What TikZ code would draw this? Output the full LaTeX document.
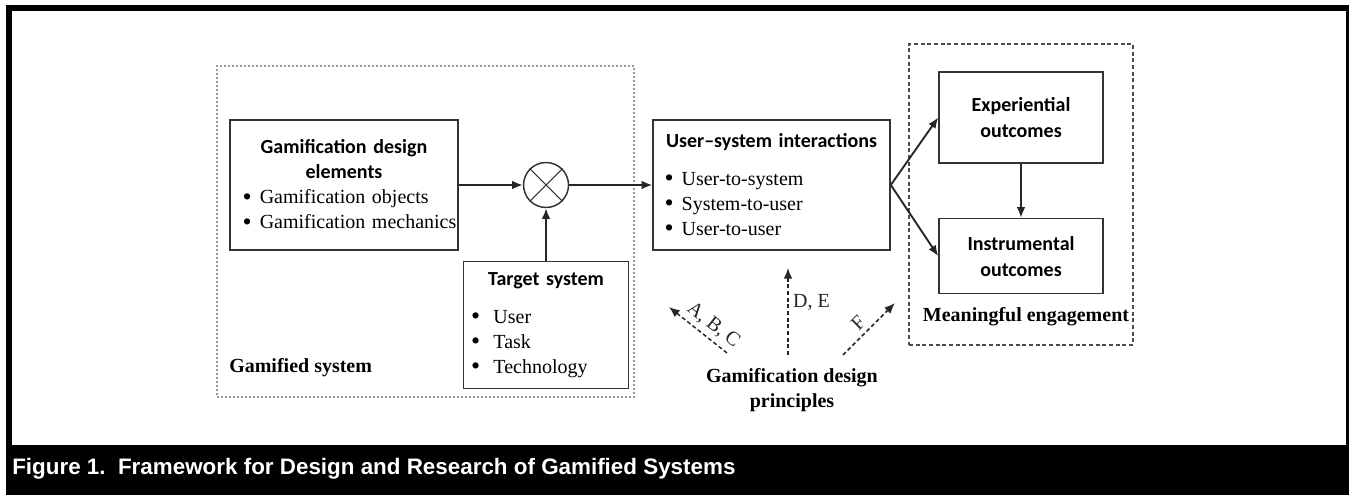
\documentclass[tikz,border=0pt]{standalone}
\usepackage{fontspec}
\setmainfont{Liberation Serif}
\newfontfamily\calib{Carlito}
\newfontfamily\arialb{Liberation Sans}
\usetikzlibrary{positioning,arrows.meta}

\newcommand{\fsz}{\fontsize{15pt}{18.75pt}\selectfont}
\newcommand{\hd}{\calib\bfseries}
\newcommand{\itm}[2][6pt]{\mbox{\raisebox{-0.9pt}{\scalebox{1.3}{\textbullet}}\hspace{#1}#2}}

\begin{document}
\begin{tikzpicture}[x=0.75pt, y=-0.75pt,
  box/.style={draw=black!80, line width=1.2pt, align=left, font=\fsz},
  outbox/.style={draw=black!80, line width=1.2pt, align=center, minimum width=123pt,
    font=\calib\bfseries\fontsize{15pt}{19.5pt}\selectfont},
  grp/.style={draw=black!40, line width=1.5pt, dash pattern=on 1.5pt off 1.5pt},
  grpb/.style={draw=black!70, line width=1.1pt, dash pattern=on 3pt off 2pt},
  lbl/.style={font=\fsz\bfseries},
  lab/.style={font=\fsz},
  arr/.style={-{Latex[length=8pt,width=6.5pt]}, line width=1.4pt, black!85},
  darr/.style={arr, line width=1.1pt, dash pattern=on 3pt off 2pt}]

  \useasboundingbox (0,0) rectangle (1349,495);
  \fill (6,5) rectangle (1349,495);
  \fill[white] (12,11) rectangle (1346,445);

  % dotted groups
  \node[grp, minimum width=312.75pt, minimum height=248.25pt] (gsys) at (425.5,231.5) {};
  \node[grpb, minimum width=168pt, minimum height=225.75pt] (meng) at (1021,194.5) {};

  \node[box, text width=152pt, minimum height=97.5pt, inner xsep=9.5pt] (gde) at (344,185)
    {{\centering\hd Gamification design\\ elements\par}
     \itm{Gamification objects}\\ \itm{Gamification mechanics}};
  \node[circle, draw=black!80, line width=1.1pt, minimum size=33.75pt, inner sep=0pt] (mix) [right=48pt of gde] {};
  \draw[line width=0.8pt, black!80] (mix.45) -- (mix.225) (mix.135) -- (mix.315);
  \node[box, text width=112.5pt, minimum height=95.25pt, inner xsep=5.6pt] (tgt) [below=39.4pt of mix]
    {{\centering\hd Target system\par}\vspace{9.75pt}
     \itm[10pt]{User}\\ \itm[10pt]{Task}\\ \itm[10pt]{Technology}};
  \node[box, text width=160.5pt, minimum height=97.5pt, inner xsep=8.6pt] (usr) [right=62.25pt of mix]
    {{\centering\hd\mbox{User–system interactions}\par}\vspace{9.75pt}
     \itm{User-to-system}\\ \itm{System-to-user}\\ \itm{User-to-user}};
  \node[outbox, minimum height=68.25pt] (exp) at (1021,117.5) {Experiential\\ outcomes};
  \node[outbox, minimum height=56.25pt] (ins) [below=40.5pt of exp] {Instrumental\\ outcomes};

  \node[lbl, anchor=west, inner sep=0pt] (gsyslbl) at (229,368) {Gamified system};
  \node[lbl] (menglbl) at (1026,317) {Meaningful engagement};
  \node[lbl, align=center] (gdp) at (792,390.5) {Gamification design\\ principles};

  \draw[arr] (gde) -- (mix);
  \draw[arr] (tgt) -- (mix);
  \draw[arr] (mix) -- (usr);
  \draw[arr] (usr.east) -- (exp.west);
  \draw[arr] (usr.east) -- (ins.west);
  \draw[arr] (exp) -- (ins);

  % principles
  \coordinate (abc0) at (727,353);
  \coordinate (abc1) at (669,307);
  \coordinate (de0) at (788,355);
  \coordinate (de1) at (788,268);
  \coordinate (f0) at (843,355);
  \coordinate (f1) at (895,303);
  \draw[darr] (abc0) -- node[lab, sloped, above, pos=0.38] {A, B, C} (abc1);
  \draw[darr] (de0) -- node[lab, right, pos=0.6] {D, E} (de1);
  \draw[darr] (f0) -- node[lab, sloped, above, pos=0.45] {F} (f1);

  \node[anchor=base west, inner sep=0pt, text=white,
    font=\arialb\bfseries\fontsize{16.8pt}{20pt}\selectfont] (cap) at (12,474)
    {Figure 1.~~Framework for Design and Research of Gamified Systems};
\end{tikzpicture}
\end{document}
